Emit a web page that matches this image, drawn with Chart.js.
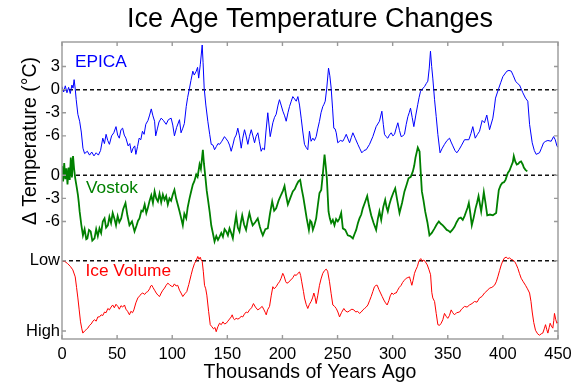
<!DOCTYPE html>
<html><head><meta charset="utf-8">
<script src="https://cdn.jsdelivr.net/npm/chart.js@4/dist/chart.umd.min.js"></script>
<style>html,body{margin:0;padding:0;background:#fff}canvas{display:block}</style>
</head><body>
<canvas id="c" width="586" height="391"></canvas>
<script>
// ---- DATA ----
const epicaAge=[0,1.5,3,4.5,6,7.5,9,10,11,12,12.9,14.4,16,17.5,19,20.5,23,25,27,29,31,33,35,37,38.5,40,41.5,43,45,47,49,50.5,52,53.5,55,56.5,58,60,61.5,63,64.5,66,67,68.5,70,71.5,73,74.5,76,78,79.5,81,82.5,84,85,86.5,88,90,92,94.5,96.5,99,100.5,102,104,106.6,108,109.6,111,112.7,114,115.7,117,118.7,120,121.8,123,124,125.5,127.2,128,129,130.5,132.3,134,135.4,137,138.4,140,141.5,143,145,147.4,149,150.5,152,153.5,155,156.5,158,159.5,161,162.6,164,165.6,167,168.6,170,171.7,173,174.7,176,177.7,179,180.7,182,183.7,185,186.7,188.9,191.3,192.8,194.3,196,197.3,198.8,200.4,202,203.4,205,206.4,208,209.4,211,212.5,214,215.5,217,218.5,220,221.5,223,224.5,226,227.6,229,230.6,232,233.6,235,236.6,237.7,238.8,240.2,241.8,243,244.2,245.5,246.6,247.8,248.8,250.2,252.5,254.8,256.3,257.9,259.5,260.9,262.5,263.9,266,268.4,270,272,274,276,279,282,285,288,290.2,291.5,292.6,294,295.6,297,298.7,300.2,301.7,303.2,304.7,306.2,307.7,309.2,310.7,312.3,313.8,315,316.2,317.7,319.2,321,322.8,324,325.3,327,328.9,330.5,331.9,333.2,334.3,335.4,336.4,338,339.5,341,343,345,347,349.3,351.6,353,354.6,356.5,358.2,360.2,362.2,365.2,369.1,371,372.7,374.9,377,378.8,381.2,383.3,385.4,387.9,390.9,392.2,393.3,396.3,398,400,403.6,405.5,407.6,409.5,411.5,413.3,415.1,416.6,418.1,420.5,422.6,424.2,426.6,428.5,430.2,433.2,435,436.9,438.9,440.8,443.8,446,447.5,449,450];
const epicaTemp=[0.4,-0.3,0.5,-0.4,0.3,-0.5,0.6,0.2,1.3,0.1,-1.3,-3.2,-4.1,-5.5,-7.6,-8.3,-8.0,-8.5,-8.1,-8.6,-8.2,-8.5,-7.9,-6.3,-7.0,-5.8,-6.6,-7.1,-6.0,-5.6,-4.8,-5.9,-6.3,-5.2,-5.0,-5.9,-6.3,-7.3,-7.0,-8.2,-7.6,-7.3,-8.4,-7.4,-6.3,-6.5,-5.4,-5.8,-4.5,-4.0,-3.3,-2.5,-3.4,-4.1,-6.0,-5.1,-4.2,-3.7,-4.0,-4.5,-3.9,-3.7,-4.6,-6.0,-4.9,-3.9,-5.6,-5.0,-4.4,-2.2,-1.0,0.2,1.2,2.4,1.9,2.4,2.9,1.5,3.3,5.8,3.5,0.2,-2.0,-4.1,-5.8,-7.1,-7.2,-7.8,-7.4,-7.0,-7.1,-6.7,-6.1,-6.4,-6.7,-7.2,-8.0,-7.2,-6.3,-5.9,-5.0,-6.0,-7.6,-6.3,-5.2,-6.0,-7.1,-6.1,-5.2,-5.9,-6.9,-6.1,-5.6,-6.7,-8.0,-7.6,-7.8,-5.5,-3.0,-6.1,-4.3,-3.6,-3.2,-2.0,-1.3,-2.0,-2.8,-3.4,-4.1,-3.0,-2.2,-1.5,-0.9,-1.2,-1.5,-0.9,-2.0,-3.7,-5.5,-7.1,-7.5,-7.8,-5.4,-6.7,-6.3,-6.6,-6.1,-5.1,-4.1,-3.0,-2.2,-1.9,-1.5,0.2,2.8,1.8,0.2,-2.5,-5.0,-5.1,-5.6,-6.9,-6.6,-6.7,-6.3,-5.8,-6.4,-6.9,-6.2,-5.6,-6.3,-7.1,-7.6,-8.2,-7.9,-7.8,-7.1,-6.1,-4.8,-4.1,-2.8,-4.5,-5.8,-6.1,-6.3,-5.9,-5.6,-6.0,-5.8,-5.0,-4.3,-5.3,-6.1,-6.0,-5.8,-4.5,-3.5,-3.0,-2.4,-3.6,-4.8,-3.3,-1.9,-1.0,-0.2,0.1,0.4,0.8,1.1,2.8,5.0,3.0,1.5,-1.3,-3.5,-5.8,-8.2,-7.6,-7.1,-6.6,-6.3,-6.8,-7.3,-7.9,-8.2,-7.8,-7.3,-6.5,-6.5,-5.7,-4.8,-6.3,-5.8,-5.4,-4.0,-4.3,-3.3,-5.2,-3.7,-2.4,-1.1,0.2,0.9,1.7,2.4,2.5,2.4,1.8,1.1,0.8,0.6,0.1,-0.4,-1.1,-1.5,-4.5,-6.9,-7.9,-8.4,-8.2,-7.6,-6.9,-6.7,-6.6,-6.7,-6.1,-6.5,-7.3,-7.5];

const vostokAge=[0,1,2,3,4,5,6,7,8,9,10,11,12,13.3,14.4,15.2,16,17.5,19,20.5,22,23,24.5,26,27.5,29.5,31,32.5,34,35.5,37,38.6,40,41.6,43,44.5,46,47.5,49,50.5,52,53.7,55.5,57.6,59.3,61.2,63.5,65.8,67.5,69,70.3,72,73.3,75,76.5,77.8,79.5,81,82.5,84,85.5,87,88.5,90,91.5,93,94.5,96,97.5,99,100.5,102,103.5,105,106.5,108,109.6,111,112.7,114,115.7,117,118.7,120,121.8,123,124.8,126,127.8,128.8,130.2,131.3,132.3,134,135.4,137,138.4,140,141.5,142.9,144.5,146,147.5,149,150.5,152,153.5,155,156.5,158,159.5,161,162.3,163.5,165.2,167,168.5,170,171.5,173,175.3,177.6,179.5,180.8,182.2,184.5,186.7,188.7,190.7,192.5,194.3,196.5,198.9,200.5,201.9,203.4,204.9,207,209.4,211.2,213,214.5,216.1,217.5,219,220,222,224,225.2,226.4,227.6,229,230.6,232.2,233.6,235.2,236.6,238.2,239.2,240.3,241.8,243,244.2,245.7,247.2,248.7,250.2,251.8,253.3,254.8,257,259.3,261.5,263.9,265.5,266.9,268.5,269.9,271.5,272.9,274.9,276.9,278.6,280.5,282.7,285,286.5,288,289.6,291.5,293.2,294.5,295.6,297,298.7,300.5,302.3,304.2,306.2,308.5,310.7,312.5,314.4,316.4,318.3,319.5,320.7,322.8,324.4,325.3,326.5,328,329.5,331.5,333.4,335.5,338,339.9,341.9,343.7,345.5,347.3,349.1,350.6,352.2,354.1,356.1,358,360,361.8,363.6,365.2,366.7,368,369.1,370.5,371.8,373.5,375.2,376.5,377.9,379.1,380.3,381.5,382.7,384.2,385.8,388.3,390.9,393.9,395,396.3,398,399.4,401,402.4,404.5,406,407.6,409,409.9,411.2,412.6,414,415.1,416.5,418,419,420.5,422.1];
const vostokTemp=[1.2,-0.8,1.6,-0.5,0.9,-1.2,1.0,-0.6,2.3,-0.3,2.5,0.8,-0.4,-1.5,-2.5,-3.5,-4.7,-6.4,-7.8,-7.0,-8.3,-8.2,-7.1,-7.3,-8.5,-8.2,-7.0,-7.9,-6.9,-7.5,-6.0,-5.6,-6.8,-6.5,-5.4,-6.2,-4.9,-5.6,-6.5,-5.3,-6.1,-5.6,-4.4,-3.6,-5.2,-6.5,-6.0,-7.3,-6.6,-5.9,-5.6,-4.6,-4.7,-3.8,-4.9,-4.3,-3.3,-2.6,-3.6,-2.1,-3.0,-3.4,-2.4,-3.5,-2.5,-3.2,-2.7,-3.8,-3.0,-3.3,-2.5,-1.9,-3.0,-3.8,-4.6,-5.5,-6.5,-5.0,-5.6,-4.2,-3.0,-2.2,-1.2,-0.8,0.1,-0.2,1.4,0.8,3.3,1.5,-0.4,-2.0,-3.0,-4.8,-6.5,-7.6,-8.6,-7.9,-8.4,-8.0,-7.5,-8.0,-7.0,-7.3,-7.8,-6.9,-7.5,-8.2,-6.6,-5.2,-6.8,-7.3,-6.1,-5.2,-6.4,-7.1,-5.9,-4.9,-5.8,-6.5,-6.1,-5.6,-6.7,-7.3,-7.8,-7.0,-6.9,-5.0,-3.4,-4.6,-4.3,-3.3,-2.5,-2.0,-1.4,-2.7,-3.8,-3.0,-2.1,-1.8,-1.2,-0.8,-0.6,-1.8,-2.9,-3.8,-5.6,-7.1,-5.9,-6.1,-7.1,-6.5,-5.6,-3.8,-2.3,-1.9,0.1,2.7,1.3,-0.4,-4.7,-5.6,-6.2,-5.8,-6.5,-5.7,-6.0,-5.6,-4.9,-6.9,-7.1,-7.8,-7.9,-8.2,-7.6,-7.1,-6.2,-5.6,-5.1,-4.3,-3.5,-2.7,-4.0,-5.2,-6.2,-7.1,-5.7,-4.7,-5.8,-4.1,-3.2,-4.2,-4.7,-3.8,-3.0,-2.3,-1.7,-3.3,-4.9,-3.6,-2.1,-1.3,-0.4,-0.2,0.5,1.2,2.3,3.6,3.1,0.8,-2.1,-3.3,-4.7,-6.1,-7.8,-7.5,-6.9,-6.4,-6.0,-6.3,-6.5,-6.8,-7.1,-7.2,-7.4,-7.1,-6.7,-6.1,-5.6,-5.5,-5.8,-5.3,-4.7,-4.2,-3.6,-5.0,-6.5,-5.5,-4.3,-3.6,-2.7,-3.7,-4.7,-3.5,-2.2,-3.6,-5.2,-5.1,-5.2,-4.9,-3.5,-1.9,-1.3,-1.0,-0.9,-0.6,0.3,0.6,1.2,1.7,2.5,1.8,1.4,1.5,1.7,1.8,1.4,1.0,0.7,0.5];

const iceAge=[0,2.5,5,7.5,9.8,12,13.2,14.4,15.6,16.8,18,18.9,20.5,22,23.4,25,26.5,28,29.5,31,32.5,34,35.5,37,38.6,40,41.6,43,44.5,46,47.5,49,50.6,52,53.5,55,56.7,58,59.5,61.2,62.5,64,65.2,67,68.8,70.5,72,73.3,75,76.5,77.8,79.5,80.5,81.5,82.5,84,85.5,87,88.5,90,91.5,93,94.5,96,97.5,99,100.5,102,103.5,105,106.6,108,109.6,111.5,113.2,115,117.2,118.5,120.2,121.7,123.2,124.3,125.4,126.3,127.2,128.2,129.3,130.4,131.4,133,134.5,136,137.5,138.8,139.9,141.4,142.9,144.5,146,147.5,149,150.5,152,153.5,154.4,155.5,156.5,158,159.5,161,162.5,164,165.5,167.1,168.5,170.1,172,173.7,175.5,177.6,179.5,181.6,183.3,184.5,185.3,186.5,188.3,189.8,191.3,192.5,194.3,195.8,197.3,198.8,200.3,201.5,203,204,205.5,207,208,209.5,211,212.5,214,215.5,216.5,217.5,219.1,220,221.5,223,224.5,226,227.3,228.5,229.6,230.6,232,233.6,235,236.6,238.2,239.7,241,242.7,244.2,245.7,247.3,248.8,250.3,251.8,253.5,255.7,257.5,259.3,261,263,264.8,266.5,268.2,269.9,271.5,273,274.5,276,277.5,279,280.5,282,283.5,285,286,287.5,289,290.5,292,293.5,295,296.5,297.8,299.2,300.8,302,303.2,304.5,306,307.7,309,310.5,312.3,313.8,315.3,316.5,317.4,318.5,319.8,321,322.5,323.5,324.4,325.5,326.8,328.3,329.8,331.4,333,334.4,335.5,336.4,338,339.5,341,342.5,344,345.5,347,348.5,350,351.5,353.1,354.5,356.1,358,360.7,362.5,365.2,367.5,369.7,372,374.3,376.5,378.8,381,383.3,385.5,387.9,390,392.4,394,395.4,397,398.5,400,401.5,403,404.5,406,407.5,409,410.6,412,413.6,415,416.6,418.5,420.5,422.3,424.2,425.5,426.6,428,429.6,431.5,433.2,434.8,436.2,437.5,438.7,439.8,440.8,442,442.9,444,445.3,446.2,446.8,448,449,450];
const iceVolume=[0.0,0.01,0.04,0.08,0.13,0.23,0.38,0.53,0.70,0.87,0.97,1.03,1.00,0.98,0.96,0.92,0.90,0.86,0.84,0.86,0.80,0.80,0.77,0.78,0.73,0.74,0.68,0.70,0.66,0.63,0.67,0.62,0.65,0.69,0.64,0.66,0.63,0.69,0.72,0.77,0.72,0.74,0.70,0.60,0.53,0.50,0.47,0.46,0.48,0.45,0.44,0.40,0.36,0.35,0.38,0.42,0.46,0.49,0.51,0.46,0.42,0.39,0.35,0.32,0.34,0.36,0.37,0.33,0.36,0.35,0.42,0.46,0.51,0.47,0.44,0.34,0.20,0.12,0.04,0.0,-0.06,-0.02,-0.05,-0.01,0.01,0.15,0.35,0.40,0.49,0.72,0.91,0.94,0.97,0.95,1.01,0.94,0.89,0.91,0.87,0.90,0.89,0.86,0.83,0.80,0.77,0.82,0.84,0.82,0.83,0.82,0.79,0.80,0.76,0.73,0.74,0.70,0.67,0.61,0.66,0.70,0.68,0.65,0.70,0.74,0.77,0.70,0.65,0.50,0.37,0.40,0.37,0.33,0.30,0.25,0.18,0.22,0.30,0.32,0.31,0.28,0.27,0.24,0.20,0.21,0.18,0.16,0.21,0.30,0.44,0.53,0.62,0.68,0.62,0.58,0.53,0.46,0.52,0.61,0.50,0.35,0.26,0.18,0.14,0.12,0.15,0.30,0.47,0.63,0.65,0.68,0.73,0.80,0.74,0.68,0.72,0.73,0.71,0.69,0.70,0.73,0.72,0.75,0.73,0.70,0.68,0.66,0.63,0.57,0.51,0.44,0.37,0.35,0.35,0.41,0.46,0.51,0.56,0.60,0.63,0.57,0.50,0.46,0.48,0.46,0.46,0.42,0.38,0.35,0.31,0.28,0.25,0.24,0.23,0.30,0.35,0.28,0.18,0.13,0.08,0.02,-0.01,-0.03,0.01,-0.01,0.02,0.06,0.13,0.20,0.45,0.53,0.58,0.75,0.91,0.92,0.89,0.84,0.75,0.79,0.82,0.78,0.70,0.74,0.77,0.74,0.73,0.69,0.65,0.66,0.63,0.61,0.58,0.59,0.53,0.51,0.46,0.43,0.39,0.38,0.35,0.30,0.23,0.14,0.06,0.00,-0.04,-0.05,-0.03,-0.04,-0.02,-0.01,0.01,0.05,0.11,0.18,0.25,0.30,0.35,0.40,0.46,0.58,0.73,0.88,0.99,1.04,1.06,1.04,1.03,0.97,0.91,0.98,1.03,0.95,0.89,0.93,0.96,0.85,0.75,0.84,0.89,0.87];

const xTickValues=[0,50,100,150,200,250,300,350,400,450];
const epicaTicks=[3,0,-3,-6];
const vostokTicks=[0,-3,-6];
const iceTicks=[0,1];
const iceTickLabels=['Low','High'];

// ---- scale ranges for the three stacked panels ----
const EP={min:-32.38,max:6.19};
const VO={min:-21.27,max:17.31};
const IC={min:-3.111,max:1.114}; // reversed: Low at top
const FONT='"Liberation Sans", Arial, Helvetica, sans-serif';

const yTickList=[];
epicaTicks.forEach(v=>yTickList.push({value:(v-EP.min)/(EP.max-EP.min),label:String(v)}));
vostokTicks.forEach(v=>yTickList.push({value:(v-VO.min)/(VO.max-VO.min),label:String(v)}));
iceTicks.forEach((v,i)=>yTickList.push({value:(IC.max-v)/(IC.max-IC.min),label:iceTickLabels[i]}));

const pts=(xs,ys)=>xs.map((x,i)=>({x:x,y:ys[i]}));

const decor={
  id:'decor',
  beforeDraw(chart){
    const c=chart.ctx; c.save(); c.fillStyle='#fff'; c.fillRect(0,0,chart.width,chart.height); c.restore();
  },
  beforeDatasetsDraw(chart){
    const c=chart.ctx, a=chart.chartArea, s=chart.scales;
    c.save();
    c.strokeStyle='#111'; c.lineWidth=1.5; c.setLineDash([4,3]);
    [s.yE.getPixelForValue(0), s.yV.getPixelForValue(0), s.yI.getPixelForValue(0)].forEach(py=>{
      c.beginPath(); c.moveTo(a.left,py); c.lineTo(a.right,py); c.stroke();
    });
    c.restore();
  },
  afterDraw(chart){
    const c=chart.ctx, a=chart.chartArea, s=chart.scales;
    c.save();
    c.strokeStyle='#999'; c.lineWidth=1.4;
    c.strokeRect(a.left,a.top,a.right-a.left,a.bottom-a.top);
    c.beginPath();
    xTickValues.forEach(v=>{
      const px=s.x.getPixelForValue(v);
      c.moveTo(px,a.bottom); c.lineTo(px,a.bottom-4);
      c.moveTo(px,a.top); c.lineTo(px,a.top+4);
    });
    yTickList.forEach(t=>{
      const py=s.y.getPixelForValue(t.value);
      c.moveTo(a.left,py); c.lineTo(a.left+4,py);
      c.moveTo(a.right,py); c.lineTo(a.right-4,py);
    });
    c.stroke();
    c.fillStyle='#000'; c.textAlign='center'; c.textBaseline='middle';
    c.font='27px '+FONT;
    c.fillText('Ice Age Temperature Changes',(a.left+a.right)/2,20);
    c.save(); c.translate(31,141); c.rotate(-Math.PI/2);
    c.font='19.5px '+FONT; c.fillText('\u0394 Temperature (\u00B0C)',0,0);
    c.restore();
    c.textAlign='left'; c.font='17.3px '+FONT;
    c.fillStyle='#0000ff'; c.fillText('EPICA',a.left+13,62);
    c.fillStyle='#008000'; c.fillText('Vostok',a.left+24,188);
    c.fillStyle='#ff0000'; c.fillText('Ice Volume',a.left+23.5,271);
    c.restore();
  }
};

new Chart(document.getElementById('c'),{
  type:'line',
  data:{datasets:[
    {label:'EPICA',data:pts(epicaAge,epicaTemp),yAxisID:'yE',borderColor:'#0000ff',borderWidth:1,pointRadius:0,tension:0},
    {label:'Vostok',data:pts(vostokAge,vostokTemp),yAxisID:'yV',borderColor:'#008000',borderWidth:1.8,pointRadius:0,tension:0},
    {label:'Ice Volume',data:pts(iceAge,iceVolume),yAxisID:'yI',borderColor:'#ff0000',borderWidth:1,pointRadius:0,tension:0}
  ]},
  plugins:[decor],
  options:{
    responsive:false, animation:false, devicePixelRatio:1,
    layout:{padding:{left:0,right:28,top:42,bottom:0}},
    plugins:{legend:{display:false},tooltip:{enabled:false},title:{display:false}},
    scales:{
      x:{type:'linear',position:'bottom',min:0,max:450,
        afterBuildTicks:sc=>{sc.ticks=xTickValues.map(v=>({value:v}));},
        afterFit:sc=>{sc.height=52;},
        grid:{display:false,drawTicks:false},border:{display:false},
        ticks:{autoSkip:false,maxRotation:0,padding:6,color:'#000',font:{family:FONT,size:16.5}},
        title:{display:true,text:'Thousands of Years Ago',color:'#000',font:{family:FONT,size:19.5},padding:{top:0,bottom:7}}
      },
      y:{type:'linear',position:'left',min:0,max:1,
        afterBuildTicks:sc=>{sc.ticks=yTickList.map(t=>({value:t.value}));},
        afterFit:sc=>{sc.width=62;},
        grid:{display:false,drawTicks:false},border:{display:false},
        ticks:{autoSkip:false,padding:2,color:'#000',font:{family:FONT,size:16.5},
          callback:(v,i)=>yTickList[i].label}
      },
      yE:{type:'linear',display:false,min:EP.min,max:EP.max},
      yV:{type:'linear',display:false,min:VO.min,max:VO.max},
      yI:{type:'linear',display:false,min:IC.min,max:IC.max,reverse:true}
    }
  }
});
</script>
</body></html>
